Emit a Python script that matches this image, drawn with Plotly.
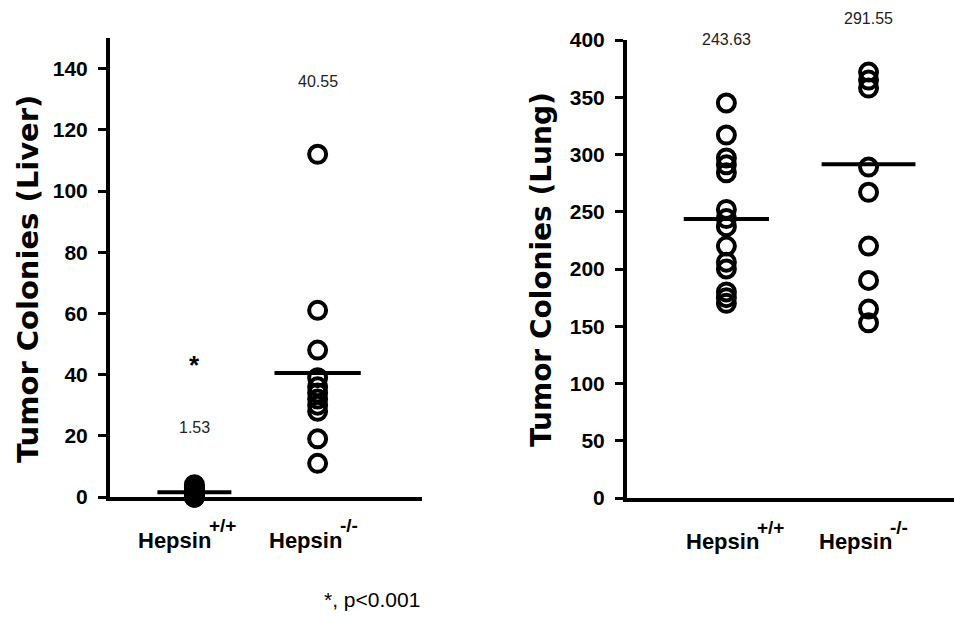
import plotly.graph_objects as go

# ---------------- data ----------------
cat_names = ["Hepsin", "Hepsin"]
cat_sups = ["+/+", "-/-"]
cat_pos = [0, 1]

liver_wt = [0, 0, 0, 0, 1, 1, 2, 2, 2, 3, 3, 4]
liver_ko = [112, 61, 48, 39, 36, 34, 32, 30, 28, 19, 11]
liver_means = [1.53, 40.55]
liver_mean_labels = ["1.53", "40.55"]

lung_wt = [345, 317, 297, 291, 284, 252, 244, 237, 220, 206, 200, 180, 175, 170]
lung_ko = [372, 365, 358, 289, 267, 220, 190, 165, 153]
lung_means = [243.63, 291.55]
lung_mean_labels = ["243.63", "291.55"]

liver_ticks = [0, 20, 40, 60, 80, 100, 120, 140]
lung_ticks = [0, 50, 100, 150, 200, 250, 300, 350, 400]

W, H = 954, 617
BOLD = "Liberation Sans, Arial, sans-serif"
TITLEF = "DejaVu Sans, Verdana, sans-serif"

fig = go.Figure()

marker = dict(symbol="circle-open", size=17, color="black", line=dict(width=4, color="black"))

def add_group(xaxis, yaxis, values_list, means, halfw):
    for cx, vals in zip(cat_pos, values_list):
        fig.add_trace(go.Scatter(x=[cx] * len(vals), y=vals, mode="markers", marker=marker,
                                 xaxis=xaxis, yaxis=yaxis, cliponaxis=False, showlegend=False,
                                 hoverinfo="skip"))
    for cx, m, hw in zip(cat_pos, means, halfw):
        fig.add_trace(go.Scatter(x=[cx - hw, cx + hw], y=[m, m], mode="lines",
                                 line=dict(color="black", width=4),
                                 xaxis=xaxis, yaxis=yaxis, cliponaxis=False, showlegend=False,
                                 hoverinfo="skip"))

add_group("x", "y", [liver_wt, liver_ko], liver_means, [0.30, 0.35])
add_group("x2", "y2", [lung_wt, lung_ko], lung_means, [0.30, 0.33])

axis_common = dict(showline=True, linewidth=4, linecolor="black", showgrid=False, zeroline=False,
                   automargin=False)

fig.update_layout(
    width=W, height=H, margin=dict(l=0, r=0, t=0, b=0, pad=0, autoexpand=False),
    autosize=False, showlegend=False,
    paper_bgcolor="white", plot_bgcolor="white",
    xaxis=dict(domain=[110 / W, 422 / W], range=[-0.685, 1.847], showticklabels=False, ticks="",
               anchor="y", **axis_common),
    yaxis=dict(domain=[1 - 497 / H, 1 - 38 / H], range=[0, 150], tickvals=liver_ticks,
               ticks="outside", ticklen=8, tickwidth=3, tickcolor="black",
               tickfont=dict(family=BOLD, size=21, color="black", weight="bold"),
               ticklabelstandoff=6, anchor="x", **axis_common),
    xaxis2=dict(domain=[627 / W, 1.0], range=[-0.699, 1.601], showticklabels=False, ticks="",
                anchor="y2", **axis_common),
    yaxis2=dict(domain=[1 - 498 / H, 1 - 40 / H], range=[0, 400], tickvals=lung_ticks,
                ticks="outside", ticklen=8, tickwidth=3, tickcolor="black",
                tickfont=dict(family=BOLD, size=21, color="black", weight="bold"),
                ticklabelstandoff=6, anchor="x2", **axis_common),
)

ann = []
# category labels: name + large superscript
label_font = dict(family=BOLD, size=22, color="black", weight="bold")
sup_font = dict(family=BOLD, size=19, color="black", weight="bold")
for xref, shifts, ymid, ysup in [("x", [19, 26], 540, 525), ("x2", [35, 25], 541, 527)]:
    for cx, nm, sp, sh in zip(cat_pos, cat_names, cat_sups, shifts):
        ann.append(dict(x=cx, y=1 - ymid / H, xref=xref, yref="paper", text=nm, showarrow=False,
                        xanchor="right", xshift=sh, yanchor="middle", font=label_font))
        ann.append(dict(x=cx, y=1 - ysup / H, xref=xref, yref="paper", text=sp, showarrow=False,
                        xanchor="left", xshift=sh - 6, yanchor="middle", font=sup_font))

# mean labels
for cx, lab, ypx in zip(cat_pos, liver_mean_labels, [427, 82]):
    ann.append(dict(x=cx, y=1 - ypx / H, xref="x", yref="paper", text=lab, showarrow=False,
                    font=dict(family=BOLD, size=16, color="#222"), yanchor="middle"))
for cx, lab, ypx in zip(cat_pos, lung_mean_labels, [39, 18]):
    ann.append(dict(x=cx, y=1 - ypx / H, xref="x2", yref="paper", text=lab, showarrow=False,
                    font=dict(family=BOLD, size=16, color="#222"), yanchor="middle"))

# significance star
ann.append(dict(x=0, y=1 - 365 / H, xref="x", yref="paper", text="*", showarrow=False,
                font=dict(family=BOLD, size=26, color="black", weight="bold"), yanchor="middle"))

# y titles
ann.append(dict(x=28 / W, y=1 - 279 / H, xref="paper", yref="paper", text="Tumor Colonies (Liver)",
                textangle=-90, showarrow=False, xanchor="center", yanchor="middle",
                font=dict(family=TITLEF, size=29, color="black", weight="bold")))
ann.append(dict(x=541 / W, y=1 - 270 / H, xref="paper", yref="paper", text="Tumor Colonies (Lung)",
                textangle=-90, showarrow=False, xanchor="center", yanchor="middle",
                font=dict(family=TITLEF, size=28, color="black", weight="bold")))

# footnote
ann.append(dict(x=372 / W, y=1 - 599 / H, xref="paper", yref="paper", text="*, p<0.001",
                showarrow=False, xanchor="center", yanchor="middle",
                font=dict(family=BOLD, size=21, color="black")))

fig.update_layout(annotations=ann)
fig.write_html("out.html", config={"displayModeBar": False},
               post_script="document.body.style.margin='0';document.body.style.padding='0';")
